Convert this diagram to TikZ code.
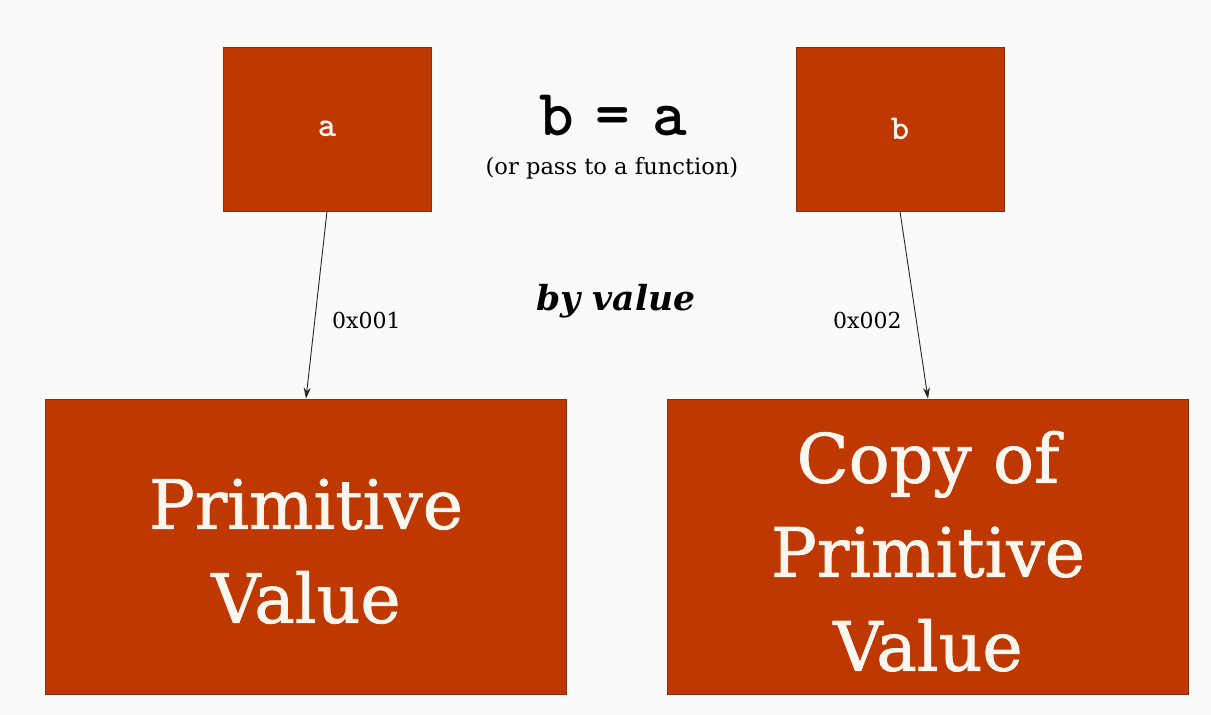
\documentclass[tikz,border=0pt]{standalone}
\usepackage{fontspec}
\setmainfont{DejaVu Serif}
\usetikzlibrary{arrows.meta}
\definecolor{boxred}{RGB}{190,56,0}
\definecolor{boxedge}{RGB}{140,45,15}
\definecolor{bgc}{RGB}{250,250,250}
\definecolor{boxtext}{RGB}{252,246,240}
\newcommand{\biglines}[1]{\raisebox{-11pt}[0pt][0pt]{\parbox{480pt}{\centering #1}}}
\newcommand{\eqfont}{\ttfamily\bfseries\fontsize{66}{66}\selectfont\spaceskip=22pt\relax}
\tikzset{
  varbox/.style={draw=boxedge, fill=boxred, line width=0.8pt, minimum width=208pt, minimum height=164pt, inner sep=0pt, text=boxtext, font=\ttfamily\bfseries\fontsize{35}{35}\selectfont},
  valbox/.style={draw=boxedge, fill=boxred, line width=0.8pt, minimum width=521pt, minimum height=295pt, inner sep=0pt, text=boxtext, font=\fontsize{68}{94}\selectfont\addfontfeature{FakeBold=1.2}},
  ptr/.style={draw=black!85, line width=0.9pt, -{Stealth[length=11pt,width=7pt]}},
  addr/.style={anchor=west, font=\fontsize{22}{22}\selectfont, inner sep=0pt}
}
\begin{document}
\begin{tikzpicture}[x=1pt,y=-1pt]
\fill[bgc] (0,0) rectangle (1211,715);
\useasboundingbox (0,0) rectangle (1211,715);
\node[varbox] (a) at (327,129) {a};
\node[varbox] (b) at (900,129) {b};
\node[valbox] (prim) at (306,546.5) {\biglines{Primitive\\Value}};
\node[valbox] (copy) at (928,546.5) {\biglines{Copy of\\Primitive\\Value}};
\node[font=\eqfont, inner sep=0pt] (eq) at (613,116) {b = a};
\node[font=\fontsize{22.6}{22.6}\selectfont, inner sep=0pt] (pass) at (612,168) {(or pass to a function)};
\node[font=\bfseries\itshape\fontsize{34.5}{34.5}\selectfont, inner sep=0pt] (byv) at (616,301) {by value};
\draw[ptr] (a.south) -- (prim.north);
\draw[ptr] (b.south) -- (copy.north);
\node[addr] (l1) at (332,320) {0x001};
\node[addr] (l2) at (833,320) {0x002};
\end{tikzpicture}
\end{document}
